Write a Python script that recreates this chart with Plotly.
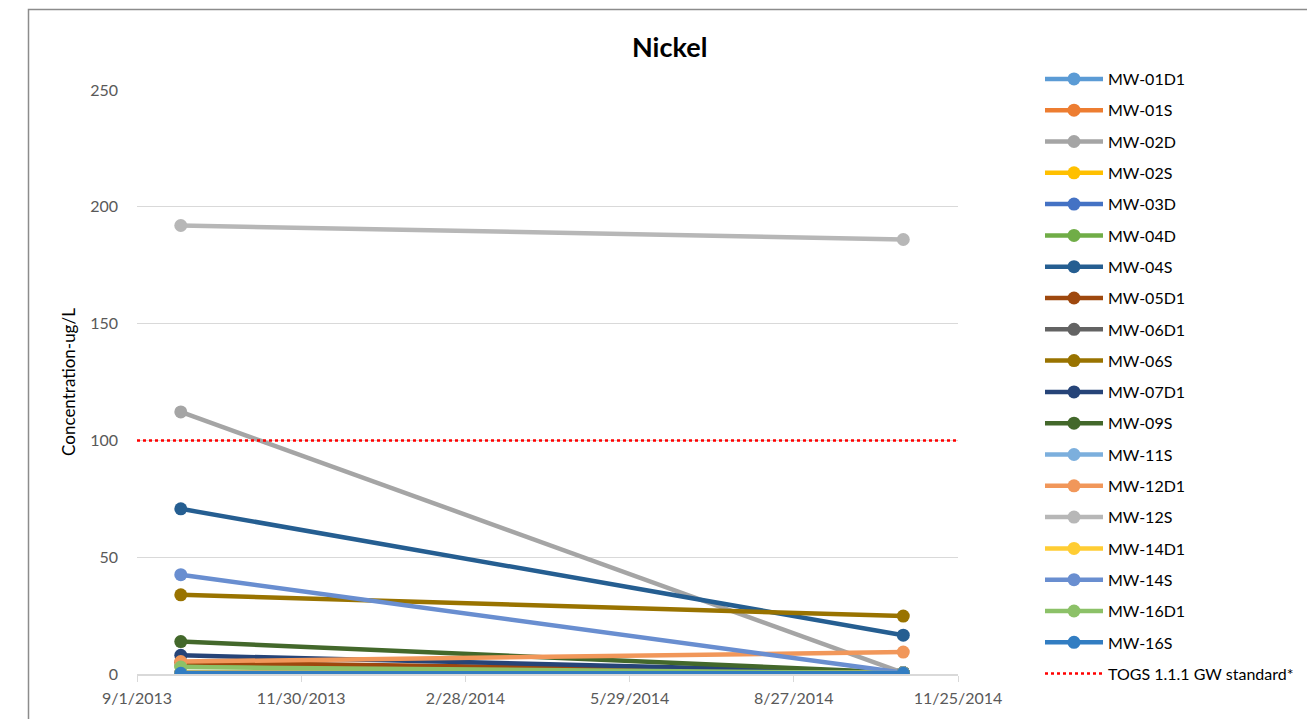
import plotly.graph_objects as go

dates = ["2013-09-25", "2014-10-26"]

series_names = ["MW-01D1", "MW-01S", "MW-02D", "MW-02S", "MW-03D", "MW-04D", "MW-04S",
                "MW-05D1", "MW-06D1", "MW-06S", "MW-07D1", "MW-09S", "MW-11S", "MW-12D1",
                "MW-12S", "MW-14D1", "MW-14S", "MW-16D1", "MW-16S"]
series_colors = ["#5B9BD5", "#ED7D31", "#A5A5A5", "#FFC000", "#4472C4", "#70AD47", "#255E91",
                 "#9E480E", "#636363", "#997300", "#264478", "#43682B", "#7CAFDD", "#F1975A",
                 "#B7B7B7", "#FFCD33", "#698ED0", "#8CC168", "#327DC2"]
series_values = [
    [0.5, 0.5],     # MW-01D1
    [0.5, 0.5],     # MW-01S
    [112.2, 0.5],   # MW-02D
    [0.5, 0.5],     # MW-02S
    [0.5, 0.5],     # MW-03D
    [3.5, 0.5],     # MW-04D
    [70.7, 16.6],   # MW-04S
    [5.0, 0.5],     # MW-05D1
    [0.5, 0.5],     # MW-06D1
    [33.9, 24.8],   # MW-06S
    [8.0, 0.5],     # MW-07D1
    [13.9, 0.5],    # MW-09S
    [0.5, 0.5],     # MW-11S
    [5.3, 9.4],     # MW-12D1
    [192.0, 186.0], # MW-12S
    [0.5, 0.5],     # MW-14D1
    [42.5, 0.5],    # MW-14S
    [3.0, 0.3],     # MW-16D1
    [0.3, 0.3],     # MW-16S
]

standard_name = "TOGS 1.1.1 GW standard*"
standard_value = 100
axis_start, axis_end = "2013-09-01", "2014-11-25"

tick_vals = ["2013-09-01", "2013-11-30", "2014-02-28", "2014-05-29", "2014-08-27", "2014-11-25"]
tick_text = ["9/1/2013", "11/30/2013", "2/28/2014", "5/29/2014", "8/27/2014", "11/25/2014"]
y_ticks = [0, 50, 100, 150, 200, 250]

FONT = "Lato"
W, H = 1307, 719
PLOT_TOP, PLOT_BOTTOM, PLOT_LEFT, PLOT_RIGHT = 90, 674, 137, 958
L, R, T, B = PLOT_LEFT, W - PLOT_RIGHT, 20, H - PLOT_BOTTOM
pw, ph = W - L - R, H - T - B

def px_x(p):
    return (p - L) / pw

def px_y(p):
    return (H - B - p) / ph

fig = go.Figure()
for i, (n, c, v) in enumerate(zip(series_names, series_colors, series_values)):
    fig.add_trace(go.Scatter(
        x=dates, y=v, name=n, mode="lines+markers",
        line=dict(color=c, width=4.5), marker=dict(color=c, size=13),
        legendgroup=f"g{i}",
    ))

fig.add_trace(go.Scatter(
    x=[axis_start, axis_end], y=[standard_value, standard_value], name=standard_name,
    mode="lines", line=dict(color="#FF0000", width=2.5, dash="dot"), legendgroup="gstd",
))

fig.update_layout(
    width=W, height=H,
    margin=dict(l=L, r=R, t=T, b=B, autoexpand=False),
    paper_bgcolor="white", plot_bgcolor="white",
    font=dict(family=FONT, color="#595959"),
    showlegend=True,
    legend=dict(
        x=px_x(1040), y=px_y(62), xanchor="left", yanchor="top",
        font=dict(family=FONT, size=16, color="#000000"),
        tracegroupgap=7.5, itemwidth=58, traceorder="grouped",
        bgcolor="rgba(0,0,0,0)",
    ),
    xaxis=dict(
        type="date", range=[axis_start, axis_end],
        tickvals=tick_vals, ticktext=tick_text,
        showgrid=False, showline=True, linecolor="#D9D9D9", linewidth=1.5,
        ticks="outside", ticklen=6, tickcolor="#D9D9D9",
        tickfont=dict(family=FONT, size=16, color="#595959"),
        ticklabelstandoff=3,
        zeroline=False,
    ),
    yaxis=dict(
        domain=[0, (PLOT_BOTTOM - PLOT_TOP) / ph],
        range=[0, 250], tickvals=y_ticks,
        showgrid=True, gridcolor="#D9D9D9", gridwidth=1.2,
        zeroline=False, showline=False,
        tickfont=dict(family=FONT, size=16, color="#595959"),
        ticklabelstandoff=18,
        title=dict(text="Concentration-ug/L", font=dict(family=FONT, size=17, color="#000000"), standoff=10),
    ),
    annotations=[dict(
        text="<b>Nickel</b>", x=px_x(669), y=px_y(46), xref="paper", yref="paper",
        showarrow=False, font=dict(family=FONT, size=27, color="#000000"),
        xanchor="center", yanchor="middle",
    )],
    shapes=[dict(
        type="rect", xref="paper", yref="paper",
        x0=px_x(28.5), x1=px_x(1340), y0=px_y(760), y1=px_y(9.5),
        line=dict(color="#8C8C8C", width=1.5), fillcolor="rgba(0,0,0,0)", layer="below",
    )],
)

fig.write_html("out.html")
